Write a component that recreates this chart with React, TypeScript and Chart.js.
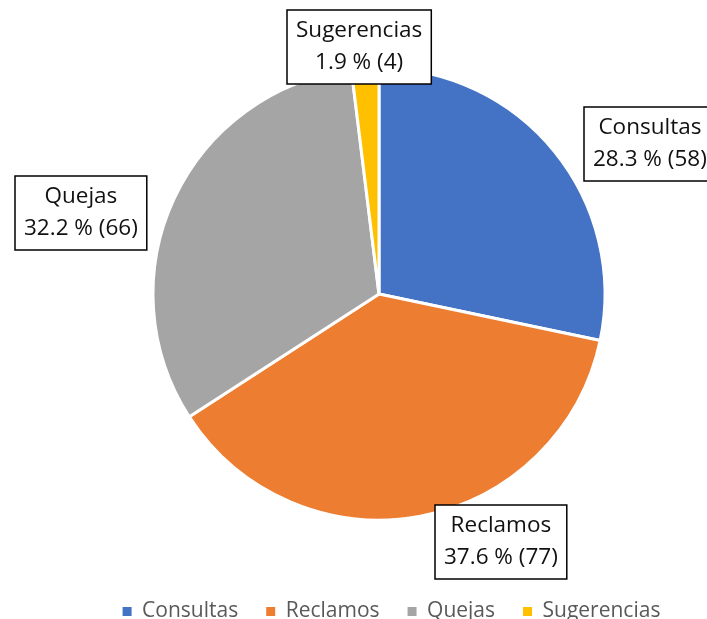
import React, { useEffect, useRef } from 'react';
import { Chart, registerables } from 'chart.js';

Chart.register(...registerables);

const categories = ['Consultas', 'Reclamos', 'Quejas', 'Sugerencias'];
const counts = [58, 77, 66, 4];
const percents = [28.3, 37.6, 32.2, 1.9];
const colors = ['#4472C4', '#ED7D31', '#A5A5A5', '#FFC000'];

// Label placement relative to each slice's mid-angle (radius factor, angle shift in degrees)
const labelRadiusFactor = [1.369, 1.225, 1.369, 1.096];
const labelAngleShift = [10.1, -15.7, -9.8, -1.1];

const LABEL_FONT = '22.5px "Open Sans"';
const LINE_H = 32;
const PAD_X = 9;
const PAD_Y = 5;

const boxLabels = {
  id: 'boxLabels',
  afterDatasetsDraw(chart: any) {
    const meta = chart.getDatasetMeta(0);
    const ctx = chart.ctx;
    ctx.save();
    ctx.font = LABEL_FONT;
    meta.data.forEach((arc: any, i: number) => {
      const p = arc.getProps(['x', 'y', 'startAngle', 'endAngle', 'outerRadius'], true);
      const mid = (p.startAngle + p.endAngle) / 2 + (labelAngleShift[i] * Math.PI) / 180;
      const r = p.outerRadius * labelRadiusFactor[i];
      const cx = p.x + Math.cos(mid) * r;
      const cy = p.y + Math.sin(mid) * r;
      const lines = [categories[i], `${percents[i].toFixed(1)} % (${counts[i]})`];
      const w = Math.max(...lines.map((l) => ctx.measureText(l).width)) + 2 * PAD_X;
      const h = lines.length * LINE_H + 2 * PAD_Y;
      const left = Math.round(cx - w / 2);
      const top = Math.round(cy - h / 2);
      ctx.fillStyle = '#ffffff';
      ctx.fillRect(left, top, w, h);
      ctx.strokeStyle = '#000000';
      ctx.lineWidth = 1.5;
      ctx.strokeRect(left, top, w, h);
      ctx.fillStyle = '#111111';
      ctx.textAlign = 'center';
      ctx.textBaseline = 'middle';
      lines.forEach((l, k) => {
        ctx.fillText(l, left + w / 2, top + PAD_Y + LINE_H * (k + 0.5));
      });
    });
    ctx.restore();
  },
};

export default function App() {
  const ref = useRef<HTMLCanvasElement | null>(null);

  useEffect(() => {
    if (!ref.current) return;
    const chart = new Chart(ref.current, {
      type: 'pie',
      data: {
        labels: categories,
        datasets: [
          {
            data: counts,
            backgroundColor: colors,
            borderColor: '#ffffff',
            borderWidth: 3,
            radius: 226,
          },
        ],
      },
      options: {
        responsive: false,
        animation: false,
        layout: { padding: { left: 76, right: 0, top: 15, bottom: 0 } },
        plugins: {
          tooltip: { enabled: false },
          title: {
            display: true,
            position: 'right',
            text: '',
            font: { size: 25, lineHeight: 1 },
            padding: 0,
          },
          legend: {
            display: true,
            position: 'bottom',
            labels: {
              boxWidth: 9,
              boxHeight: 9,
              padding: 28,
              color: '#595959',
              font: { family: '"Open Sans"', size: 21 },
              generateLabels: (c: any) =>
                (Chart as any).overrides.pie.plugins.legend.labels
                  .generateLabels(c)
                  .map((l: any) => ({ ...l, lineWidth: 0, fontColor: '#595959' })),
            },
          },
        },
      },
      plugins: [boxLabels],
    });
    return () => chart.destroy();
  }, []);

  return (
    <div
      style={{
        position: 'fixed',
        left: 0,
        top: 0,
        width: 707,
        height: 619,
        overflow: 'hidden',
        background: '#ffffff',
      }}
    >
      <canvas ref={ref} width={707} height={632} style={{ display: 'block' }} />
    </div>
  );
}
